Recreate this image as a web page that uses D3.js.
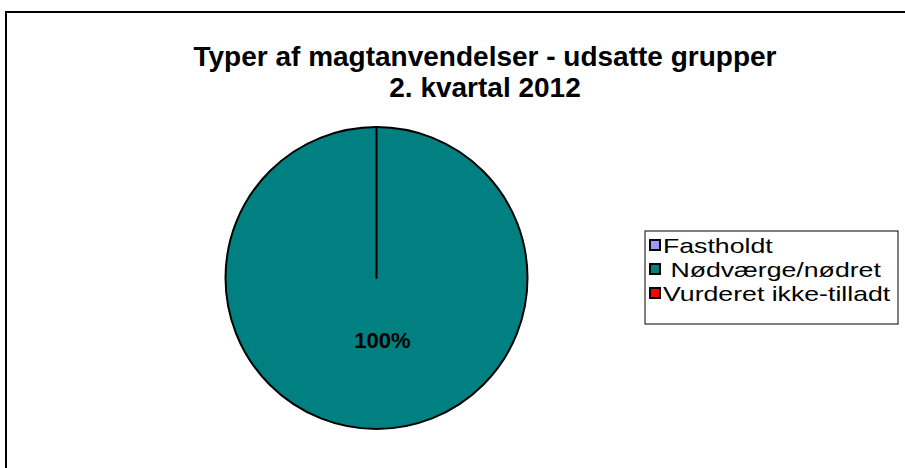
<!DOCTYPE html>
<html>
<head>
<meta charset="utf-8">
<script src="https://cdn.jsdelivr.net/npm/d3@7"></script>
<style>
  body { margin: 0; background: #fff; }
  svg text { font-family: "Liberation Sans", Arial, sans-serif; }
</style>
</head>
<body>
<div id="chart"></div>
<script>
var titleLines = ["Typer af magtanvendelser - udsatte grupper", "2. kvartal 2012"];
var categories = ["Fastholdt", " Nødværge/nødret", "Vurderet ikke-tilladt"];
var values = [0, 100, 0];
var colors = ["#9999ff", "#008080", "#ff0000"];

var width = 905, height = 468;
var cx = 376.5, cy = 278, radius = 151;

var svg = d3.select("#chart")
    .append("svg")
    .attr("width", width)
    .attr("height", height);

// outer frame (runs off the right/bottom edge like the original)
svg.append("rect")
    .attr("x", 6)
    .attr("y", 12)
    .attr("width", 1000)
    .attr("height", 1000)
    .attr("fill", "#fff")
    .attr("stroke", "#000")
    .attr("stroke-width", 2);

svg.selectAll(".title")
    .data(titleLines)
    .enter()
    .append("text")
    .attr("class", "title")
    .attr("x", 485)
    .attr("y", function(d, i) { return 66 + i * 31; })
    .attr("text-anchor", "middle")
    .style("font-size", "28px")
    .style("font-weight", "bold")
    .text(function(d) { return d; });

var total = d3.sum(values);
var pie = d3.pie().sort(null).value(function(d) { return d; });
var arc = d3.arc().innerRadius(0).outerRadius(radius);
var labelArc = d3.arc().innerRadius(radius * 0.41).outerRadius(radius * 0.41);

var g = svg.append("g")
    .attr("transform", "translate(" + cx + "," + cy + ")");

var slices = pie(values);

g.selectAll(".slice")
    .data(slices)
    .enter()
    .append("path")
    .attr("class", "slice")
    .attr("d", arc)
    .attr("fill", function(d, i) { return colors[i]; })
    .attr("stroke", "#000")
    .attr("stroke-width", 2)
    .attr("stroke-linejoin", "round");

g.selectAll(".pieLabel")
    .data(slices.filter(function(d) { return d.value > 0; }))
    .enter()
    .append("text")
    .attr("class", "pieLabel")
    .attr("x", function(d) { return labelArc.centroid(d)[0] + 6; })
    .attr("y", function(d) { return labelArc.centroid(d)[1]; })
    .attr("dy", "0.35em")
    .attr("text-anchor", "middle")
    .style("font-size", "22px")
    .style("font-weight", "bold")
    .text(function(d) { return Math.round(d.value / total * 100) + "%"; });

// legend
var legend = svg.append("g")
    .attr("transform", "translate(645,231)");

legend.append("rect")
    .attr("width", 253)
    .attr("height", 93)
    .attr("fill", "#fff")
    .attr("stroke", "#000")
    .attr("stroke-width", 1);

var rowY = d3.scalePoint()
    .domain(categories)
    .range([14, 62]);

var rows = legend.selectAll(".legendRow")
    .data(categories)
    .enter()
    .append("g")
    .attr("class", "legendRow")
    .attr("transform", function(d) { return "translate(0," + rowY(d) + ")"; });

rows.append("rect")
    .attr("x", 5)
    .attr("y", -5)
    .attr("width", 10)
    .attr("height", 10)
    .attr("fill", function(d, i) { return colors[i]; })
    .attr("stroke", "#000")
    .attr("stroke-width", 2);

// the original legend text is drawn wide, so stretch it horizontally
rows.append("text")
    .attr("transform", "translate(18,0) scale(1.27,1)")
    .attr("dy", "0.36em")
    .style("font-size", "21px")
    .style("white-space", "pre")
    .attr("xml:space", "preserve")
    .text(function(d) { return d; });
</script>
</body>
</html>
